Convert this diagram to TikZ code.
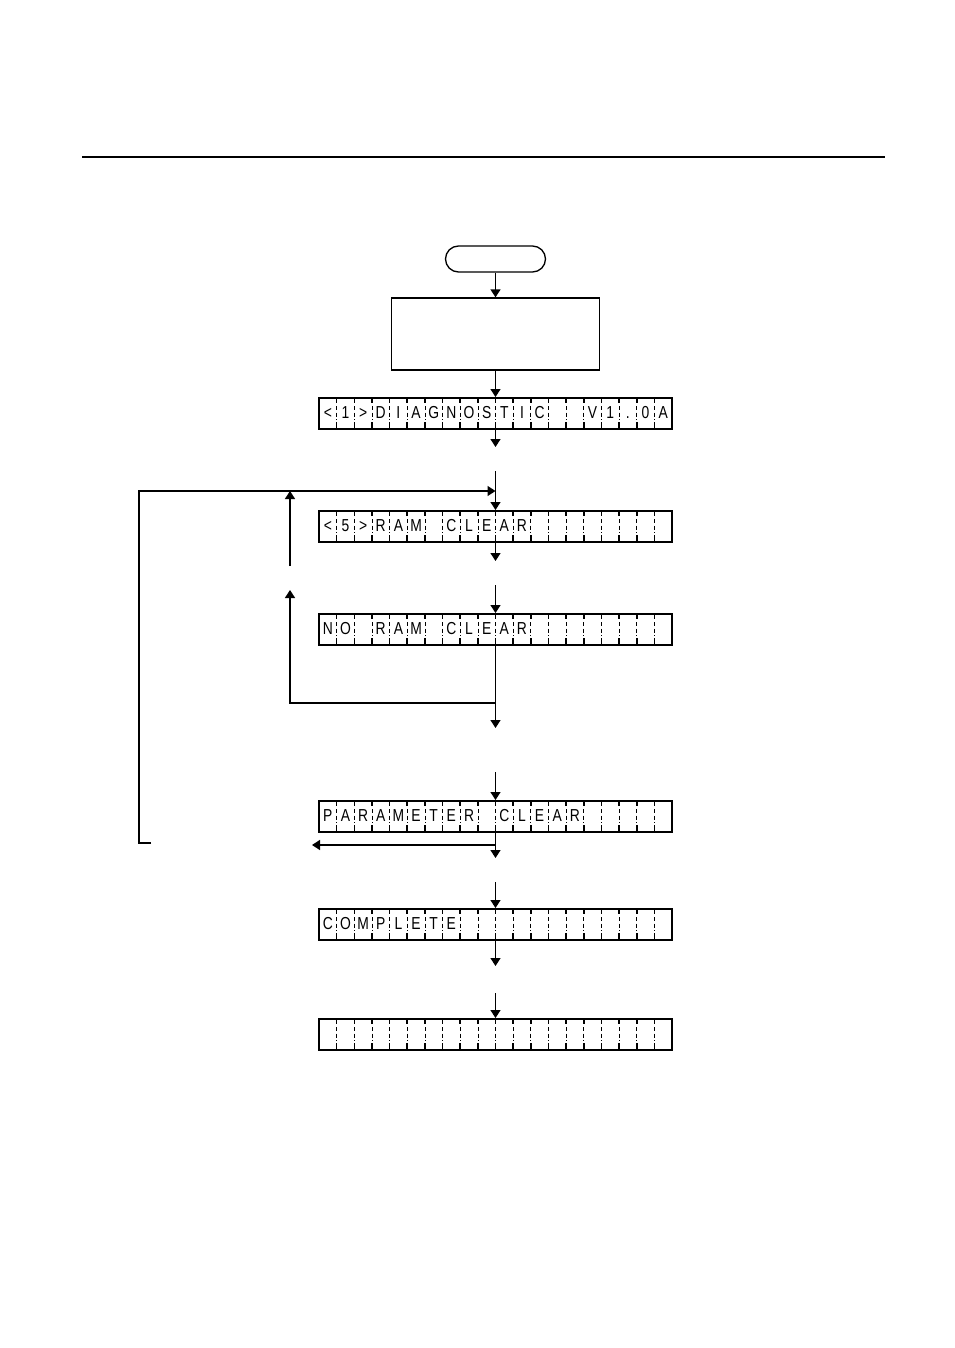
\documentclass[tikz,border=0pt]{standalone}
\usepackage{fontspec}
\newfontfamily\lcdfont{Liberation Sans}[FakeStretch=0.8]
\usetikzlibrary{arrows.meta}
\begin{document}
\begin{tikzpicture}[x=0.75pt, y=-0.75pt,
    arr/.style={line width=1pt, -{Triangle[length=6pt, width=7.5pt]}},
    lcd/.style={draw, line width=1.5pt, minimum width=264.75pt, minimum height=23.25pt, inner sep=0pt},
    cell/.style={font=\lcdfont\fontsize{13}{13}\selectfont, inner sep=0pt, text height=9.3pt, text depth=0pt},
    tick/.style={line width=1.2pt},
    dashdiv/.style={line width=0.5pt, dash pattern=on 3pt off 2pt}]
  \useasboundingbox (0,0) rectangle (954,1348);
  % page rule
  \draw[line width=2.2pt] (82,157) -- (885,157);
  % start and first step
  \node[draw, line width=1pt, rounded corners=9.75pt, minimum width=75pt, minimum height=19.5pt] (start) at (495.5,259) {};
  \node[draw, line width=1pt, minimum width=156pt, minimum height=54pt] (box) at (495.5,334) {};
  % display rows
  \foreach \nm/\yt in {d1/397, d2/510, d3/613, d4/800, d5/908, d6/1018} {
    \node[lcd, anchor=north] (\nm) at (495.5,\yt) {};
    \foreach \k in {1,...,19} {
      \draw[tick] (319+\k*17.65,\yt) -- (319+\k*17.65,\yt+6);
      \draw[tick] (319+\k*17.65,\yt+25) -- (319+\k*17.65,\yt+31);
      \draw[dashdiv] (319+\k*17.65,\yt+9) -- (319+\k*17.65,\yt+23);
    }
  }
  \foreach \ch [count=\k from 0] in {<,1,>,D,I,A,G,N,O,S,T,I,C,{},{},V,1,.,0,A}
    \node[cell] (d1c\k) at (327.8+\k*17.65,412.5) {\ch};
  \foreach \ch [count=\k from 0] in {<,5,>,R,A,M,{},C,L,E,A,R}
    \node[cell] (d2c\k) at (327.8+\k*17.65,525.5) {\ch};
  \foreach \ch [count=\k from 0] in {N,O,{},R,A,M,{},C,L,E,A,R}
    \node[cell] (d3c\k) at (327.8+\k*17.65,628.5) {\ch};
  \foreach \ch [count=\k from 0] in {P,A,R,A,M,E,T,E,R,{},C,L,E,A,R}
    \node[cell] (d4c\k) at (327.8+\k*17.65,815.5) {\ch};
  \foreach \ch [count=\k from 0] in {C,O,M,P,L,E,T,E}
    \node[cell] (d5c\k) at (327.8+\k*17.65,923.5) {\ch};
  % free ends
  \coordinate (a1) at (495.5,447);
  \coordinate (b2) at (495.5,471);
  \coordinate (a2) at (495.5,561);
  \coordinate (b3) at (495.5,585);
  \coordinate (j3) at (495.5,703);
  \coordinate (k3) at (290,703);
  \coordinate (u3) at (290,590);
  \coordinate (a3) at (495.5,728);
  \coordinate (b4) at (495.5,772);
  \coordinate (p4) at (495.5,845);
  \coordinate (q4) at (312,845);
  \coordinate (a4) at (495.5,858);
  \coordinate (b5) at (495.5,882);
  \coordinate (a5) at (495.5,966);
  \coordinate (b6) at (495.5,993);
  \coordinate (m2) at (495.5,491);
  \coordinate (u1) at (290,566);
  \coordinate (u2) at (290,491);
  \coordinate (L1) at (139,491);
  \coordinate (L2) at (139,843);
  \coordinate (L3) at (151,843);
  % main flow
  \draw[arr] (start.south) -- (box.north);
  \draw[arr] (box.south) -- (d1.north);
  \draw[arr] (d1.south) -- (a1);
  \draw[arr] (b2) -- (d2.north);
  \draw[arr] (d2.south) -- (a2);
  \draw[arr] (b3) -- (d3.north);
  \draw[arr] (d3.south) -- (a3);
  \draw[arr] (b4) -- (d4.north);
  \draw[arr] (d4.south) -- (a4);
  \draw[arr] (b5) -- (d5.north);
  \draw[arr] (d5.south) -- (a5);
  \draw[arr] (b6) -- (d6.north);
  % loops
  \draw[arr] (u1) -- (u2);
  \draw[arr] (j3) -- (k3) -- (u3);
  \draw[arr] (L3) -- (L2) -- (L1) -- (m2);
  \draw[arr] (p4) -- (q4);
\end{tikzpicture}
\end{document}
